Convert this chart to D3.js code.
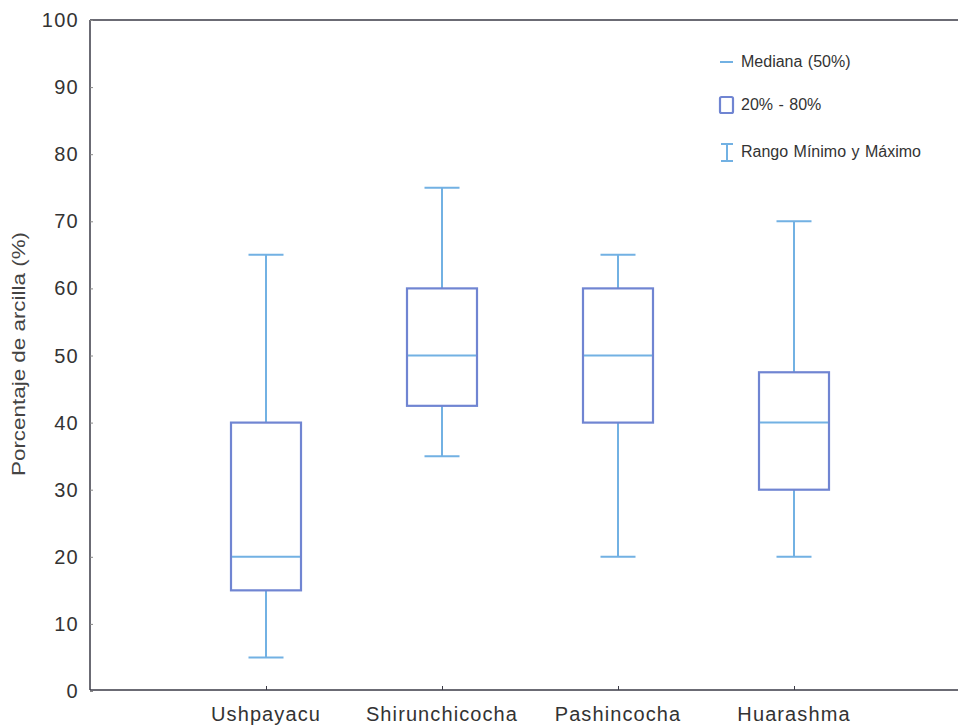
<!DOCTYPE html>
<html>
<head>
<meta charset="utf-8">
<script src="https://cdn.jsdelivr.net/npm/d3@7"></script>
<style>
  body { margin: 0; background: #fff; }
  svg text { font-family: "Liberation Sans", Arial, sans-serif; fill: #333; }
</style>
</head>
<body>
<svg width="958" height="725"></svg>
<script>
// data
var sites = ["Ushpayacu", "Shirunchicocha", "Pashincocha", "Huarashma"];
var minVals = [5, 35, 20, 20];
var q20Vals = [15, 42.5, 40, 30];
var medVals = [20, 50, 50, 40];
var q80Vals = [40, 60, 60, 47.5];
var maxVals = [65, 75, 65, 70];
var yTicks = [0, 10, 20, 30, 40, 50, 60, 70, 80, 90, 100];
var legendLabels = ["Mediana (50%)", "20% - 80%", "Rango Mínimo y Máximo"];

var svg = d3.select("svg"),
    plotLeft = 90, plotRight = 970, plotTop = 20, plotBottom = 691;

var whiskerColor = "#72b1e3",
    boxColor = "#7085d2",
    axisColor = "#3a3a46";

var x = d3.scalePoint().domain(sites).range([plotLeft, plotRight]).padding(1);
var y = d3.scaleLinear().domain([0, 100]).range([plotBottom, plotTop]);

var boxes = sites.map(function(s, i) {
  return { site: s, min: minVals[i], q1: q20Vals[i], med: medVals[i], q3: q80Vals[i], max: maxVals[i] };
});

var boxW = 70, capW = 35;

// frame: top line and left/bottom axes
svg.append("line")
    .attr("x1", plotLeft).attr("x2", 958)
    .attr("y1", plotTop).attr("y2", plotTop)
    .attr("stroke", axisColor).attr("stroke-width", 1.5);

var yAxis = svg.append("g")
    .attr("transform", "translate(" + plotLeft + ",0)")
    .call(d3.axisRight(y).tickValues(yTicks).tickSize(3).tickFormat(""));
yAxis.select(".domain").attr("d", "M0," + plotTop + "V" + (plotBottom - 1))
    .attr("stroke", axisColor).attr("stroke-width", 1.5);
yAxis.selectAll(".tick line").attr("stroke", "#888");

svg.append("g").selectAll("text")
    .data(yTicks)
    .enter().append("text")
    .attr("x", 79)
    .attr("y", function(d) { return y(d) + 7; })
    .attr("text-anchor", "end")
    .style("font-size", "20px")
    .style("letter-spacing", "1.3px")
    .text(function(d) { return d; });

var xAxis = svg.append("g")
    .attr("transform", "translate(0," + (plotBottom - 1) + ")")
    .call(d3.axisTop(x).tickSize(4).tickFormat(""));
xAxis.select(".domain").attr("d", "M" + plotLeft + ",0H" + plotRight)
    .attr("stroke", axisColor).attr("stroke-width", 1.5);
xAxis.selectAll(".tick line").attr("stroke", axisColor);

svg.append("g").selectAll("text")
    .data(sites)
    .enter().append("text")
    .attr("x", function(d) { return x(d); })
    .attr("y", 721)
    .attr("text-anchor", "middle")
    .style("font-size", "20px")
    .style("letter-spacing", "1.1px")
    .text(function(d) { return d; });

svg.append("text")
    .attr("transform", "translate(25,354) rotate(-90)")
    .attr("text-anchor", "middle")
    .attr("textLength", 244)
    .attr("lengthAdjust", "spacingAndGlyphs")
    .style("font-size", "19px")
    .style("fill", "#444")
    .text("Porcentaje de arcilla (%)");

// boxes
var g = svg.append("g").selectAll("g")
    .data(boxes)
    .enter().append("g")
    .attr("transform", function(d) { return "translate(" + x(d.site) + ",0)"; });

g.append("line")
    .attr("x1", 0).attr("x2", 0)
    .attr("y1", function(d) { return y(d.max); })
    .attr("y2", function(d) { return y(d.q3); })
    .attr("stroke", whiskerColor).attr("stroke-width", 2);

g.append("line")
    .attr("x1", 0).attr("x2", 0)
    .attr("y1", function(d) { return y(d.q1); })
    .attr("y2", function(d) { return y(d.min); })
    .attr("stroke", whiskerColor).attr("stroke-width", 2);

g.append("line")
    .attr("x1", -capW / 2).attr("x2", capW / 2)
    .attr("y1", function(d) { return y(d.max); })
    .attr("y2", function(d) { return y(d.max); })
    .attr("stroke", whiskerColor).attr("stroke-width", 2);

g.append("line")
    .attr("x1", -capW / 2).attr("x2", capW / 2)
    .attr("y1", function(d) { return y(d.min); })
    .attr("y2", function(d) { return y(d.min); })
    .attr("stroke", whiskerColor).attr("stroke-width", 2);

g.append("rect")
    .attr("x", -boxW / 2)
    .attr("width", boxW)
    .attr("y", function(d) { return y(d.q3); })
    .attr("height", function(d) { return y(d.q1) - y(d.q3); })
    .attr("fill", "none")
    .attr("stroke", boxColor).attr("stroke-width", 2.2);

g.append("line")
    .attr("x1", -boxW / 2 + 1).attr("x2", boxW / 2 - 1)
    .attr("y1", function(d) { return y(d.med); })
    .attr("y2", function(d) { return y(d.med); })
    .attr("stroke", whiskerColor).attr("stroke-width", 2);

// legend
var lg = svg.append("g").attr("transform", "translate(719,0)");

lg.append("line")
    .attr("x1", 1).attr("x2", 14).attr("y1", 62).attr("y2", 62)
    .attr("stroke", whiskerColor).attr("stroke-width", 2);

lg.append("rect")
    .attr("x", 1).attr("y", 97).attr("width", 13).attr("height", 16).attr("rx", 1.5)
    .attr("fill", "none").attr("stroke", boxColor).attr("stroke-width", 2.2);

lg.append("path")
    .attr("d", "M2,144H14M8,144V161M2,161H14")
    .attr("fill", "none").attr("stroke", whiskerColor).attr("stroke-width", 2);

lg.selectAll("text.leg")
    .data(legendLabels)
    .enter().append("text")
    .attr("class", "leg")
    .attr("x", 22)
    .attr("y", function(d, i) { return [67, 110, 157][i]; })
    .style("font-size", "16px")
    .style("word-spacing", "1px")
    .text(function(d) { return d; });
</script>
</body>
</html>
